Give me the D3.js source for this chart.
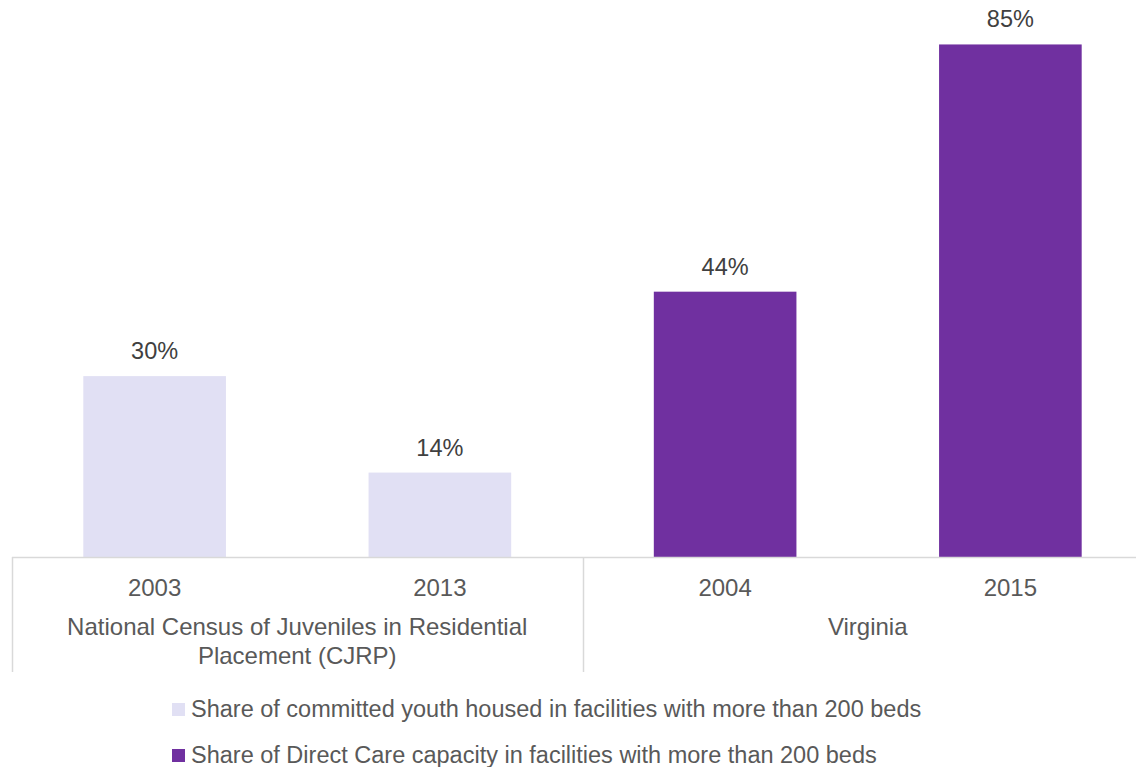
<!DOCTYPE html>
<html>
<head>
<meta charset="utf-8">
<script src="https://cdn.jsdelivr.net/npm/d3@7"></script>
<style>
  body { margin: 0; background: #fff; }
  svg { display: block; font-family: "Liberation Sans", Arial, sans-serif; }
</style>
</head>
<body>
<svg width="1136" height="767"></svg>
<script>
const years = ['2003', '2013', '2004', '2015'];
const groups = ['National Census of Juveniles in Residential|Placement (CJRP)', 'Virginia'];
const groupOf = [0, 0, 1, 1];
const values = [0.30, 0.14, 0.44, 0.85];
const seriesNames = [
  'Share of committed youth housed in facilities with more than 200 beds',
  'Share of Direct Care capacity in facilities with more than 200 beds'
];
const colors = ['#e1e0f4', '#7030a0'];

const svg = d3.select('svg'),
  width = 1136,
  baseY = 557;

const x = d3.scaleBand()
  .domain(years)
  .range([12, 1153])
  .paddingInner(0.5)
  .paddingOuter(0.25);

const y = d3.scaleLinear()
  .domain([0, 0.9])
  .range([baseY, baseY - 0.9 * 603]);

const fmt = d3.format('.0%');
const textCol = '#595959';

// bars
svg.append('g')
  .selectAll('rect')
  .data(values)
  .enter()
  .append('rect')
    .attr('x', (d, i) => x(years[i]))
    .attr('y', d => y(d))
    .attr('width', x.bandwidth())
    .attr('height', d => baseY - y(d))
    .style('fill', (d, i) => colors[groupOf[i]]);

// data labels
svg.append('g')
  .selectAll('text')
  .data(values)
  .enter()
  .append('text')
    .attr('x', (d, i) => x(years[i]) + x.bandwidth() / 2)
    .attr('y', d => y(d) - 17)
    .attr('text-anchor', 'middle')
    .style('font-size', '23.5px')
    .style('fill', '#404040')
    .text(d => fmt(d));

// axis line + group separators
const step = x.step();
const left = x.range()[0];
svg.append('line')
  .attr('x1', left).attr('x2', width)
  .attr('y1', baseY + 0.5).attr('y2', baseY + 0.5)
  .style('stroke', '#d9d9d9').style('stroke-width', 1.5);

const sepX = [left, left + 2 * step, left + 4 * step];
svg.append('g')
  .selectAll('line')
  .data(sepX)
  .enter()
  .append('line')
    .attr('x1', d => Math.round(d) + 0.5).attr('x2', d => Math.round(d) + 0.5)
    .attr('y1', baseY).attr('y2', 672)
    .style('stroke', '#d9d9d9').style('stroke-width', 1.5);

// year labels
svg.append('g')
  .selectAll('text')
  .data(years)
  .enter()
  .append('text')
    .attr('x', d => x(d) + x.bandwidth() / 2)
    .attr('y', 596)
    .attr('text-anchor', 'middle')
    .style('font-size', '24px')
    .style('fill', textCol)
    .text(d => d);

// group labels
const gl = svg.append('g')
  .selectAll('text')
  .data(groups)
  .enter()
  .append('text')
    .attr('x', (d, i) => left + (2 * i + 1) * step)
    .attr('y', 635)
    .attr('text-anchor', 'middle')
    .style('font-size', '24px')
    .style('fill', textCol);

gl.selectAll('tspan')
  .data(d => d.split('|'))
  .enter()
  .append('tspan')
    .attr('x', function () { return d3.select(this.parentNode).attr('x'); })
    .attr('dy', (d, i) => i === 0 ? 0 : 29)
    .text(d => d);

// legend
const leg = svg.append('g')
  .selectAll('g')
  .data(seriesNames)
  .enter()
  .append('g')
    .attr('transform', (d, i) => `translate(172, ${703 + i * 46})`);

leg.append('rect')
  .attr('width', 13).attr('height', 13)
  .style('fill', (d, i) => colors[i]);

leg.append('text')
  .attr('x', 19)
  .attr('y', 13.5)
  .style('font-size', '23.5px')
  .style('fill', textCol)
  .text(d => d);
</script>
</body>
</html>
